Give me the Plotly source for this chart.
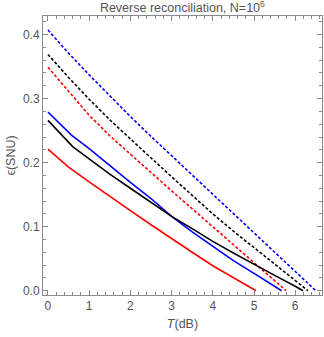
import plotly.graph_objects as go

# Data
T_blue_dash = [0, 0.5, 1, 1.5, 2, 2.5, 3, 3.5, 4, 4.5, 5, 5.5, 6, 6.5]
E_blue_dash = [0.407, 0.371, 0.337, 0.304, 0.272, 0.241, 0.211, 0.181, 0.151, 0.121, 0.091, 0.061, 0.030, 0.0]

T_black_dash = [0, 0.5, 1, 1.5, 2, 2.5, 3, 3.5, 4, 4.5, 5, 5.5, 6, 6.31]
E_black_dash = [0.369, 0.333, 0.299, 0.267, 0.237, 0.207, 0.178, 0.149, 0.120, 0.093, 0.067, 0.041, 0.016, 0.0]

T_red_dash = [0, 0.5, 1, 1.5, 2, 2.5, 3, 3.5, 4, 4.5, 5, 5.5, 5.78]
E_red_dash = [0.349, 0.311, 0.274, 0.242, 0.213, 0.185, 0.156, 0.128, 0.100, 0.071, 0.043, 0.016, 0.0]

T_blue = [0, 0.57, 1, 1.5, 2, 2.5, 3, 3.5, 4, 4.5, 5, 5.5, 5.67]
E_blue = [0.279, 0.243, 0.222, 0.195, 0.169, 0.144, 0.116, 0.092, 0.069, 0.047, 0.027, 0.007, 0.0]

T_black = [0, 0.6, 1, 1.5, 2, 2.5, 3, 3.5, 4, 4.5, 5, 5.5, 6, 6.19]
E_black = [0.266, 0.225, 0.206, 0.182, 0.160, 0.138, 0.116, 0.097, 0.077, 0.059, 0.041, 0.024, 0.007, 0.0]

T_red = [0, 0.5, 1, 1.5, 2, 2.5, 3, 3.5, 4, 4.5, 5.05]
E_red = [0.221, 0.193, 0.170, 0.147, 0.125, 0.103, 0.081, 0.060, 0.039, 0.020, 0.0]

x_ticks = [0, 1, 2, 3, 4, 5, 6]
y_ticks = [0.0, 0.1, 0.2, 0.3, 0.4]
y_tick_labels = ["0.0", "0.1", "0.2", "0.3", "0.4"]

BLUE = "rgb(0,0,255)"
RED = "rgb(255,0,0)"
BLACK = "rgb(0,0,0)"
DASH = "3px,2px"

series = [
    (T_blue_dash, E_blue_dash, BLUE, DASH),
    (T_black_dash, E_black_dash, BLACK, DASH),
    (T_red_dash, E_red_dash, RED, DASH),
    (T_blue, E_blue, BLUE, "solid"),
    (T_black, E_black, BLACK, "solid"),
    (T_red, E_red, RED, "solid"),
]

fig = go.Figure()
for xs, ys, c, d in series:
    fig.add_trace(go.Scatter(x=xs, y=ys, mode="lines",
                             line=dict(color=c, width=1.6, dash=d),
                             showlegend=False))

GRAY = "#8a8a8a"
TXT = "#555555"
FONT = "Liberation Sans, Arial, sans-serif"

fig.update_layout(
    width=324, height=337,
    margin=dict(l=43, r=2, t=16, b=42),
    paper_bgcolor="white", plot_bgcolor="white",
    font=dict(family=FONT, size=12, color=TXT),
    title=dict(text="Reverse reconciliation, N=10<sup>6</sup>",
               x=0.563, xanchor="center", y=0.99, yanchor="top",
               font=dict(size=12.5, color=TXT)),
    xaxis=dict(range=[-0.12, 6.65], tickvals=x_ticks, ticks="inside",
               ticklen=5, tickcolor=GRAY, linecolor=GRAY, linewidth=1,
               mirror="allticks", showline=True, showgrid=False, zeroline=False,
               tickfont=dict(size=12, color=TXT),
               minor=dict(dtick=0.2, ticks="inside", ticklen=3, tickcolor=GRAY),
               title=dict(text="<i>T</i>(dB)", standoff=6,
                          font=dict(size=12.5, color=TXT))),
    yaxis=dict(range=[-0.0067, 0.429], tickvals=y_ticks, ticktext=y_tick_labels,
               ticks="inside", ticklen=5, tickcolor=GRAY, linecolor=GRAY,
               linewidth=1, mirror="allticks", showline=True, showgrid=False,
               zeroline=False, tickfont=dict(size=12, color=TXT),
               minor=dict(dtick=0.02, ticks="inside", ticklen=3, tickcolor=GRAY),
               title=dict(text="ϵ(SNU)", standoff=4,
                          font=dict(size=12.5, color=TXT))),
)

fig.write_html("out.html", config={"displayModeBar": False},
               post_script="document.body.style.margin='0';document.body.style.overflow='hidden';")
